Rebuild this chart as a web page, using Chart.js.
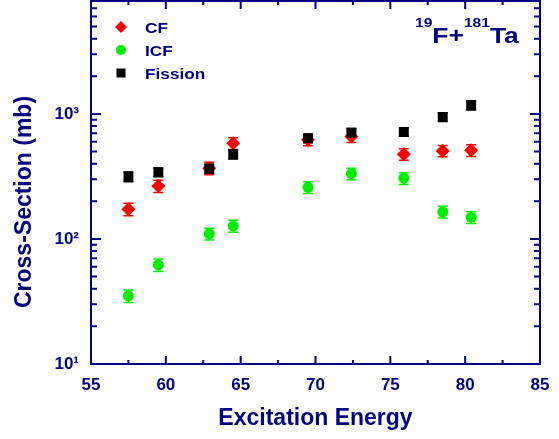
<!DOCTYPE html>
<html>
<head>
<meta charset="utf-8">
<script src="https://cdn.jsdelivr.net/npm/chart.js@4/dist/chart.umd.min.js"></script>
<style>
  html, body { margin: 0; padding: 0; background: #fff; }
  #wrap { width: 559px; height: 439px; }
</style>
</head>
<body>
<div id="wrap"><canvas id="chart" width="559" height="439"></canvas></div>
<script>
// excitation energies (same for all three series)
var energy = [57.5, 59.5, 62.9, 64.5, 69.5, 72.4, 75.9, 78.5, 80.4];

// cross-sections (mb) and their errors
var cfVals = [173, 265, 368, 582, 622, 660, 476, 506, 512];
var cfErr = [20, 30, 42, 62, 66, 70, 50, 52, 55];
var icfVals = [35, 62, 110, 127, 259, 333, 306, 165, 149];
var icfErr = [4, 7, 12, 14, 28, 35, 33, 18, 16];
var fisVals = [315, 342, 365, 476, 639, 708, 718, 946, 1175];
var fisErr = [28, 28, 30, 40, 50, 55, 55, 75, 100];

var yMajor = [10, 100, 1000];
var yLabels = ['10\u00B9', '10\u00B2', '10\u00B3'];

var navy = '#000080';
var fontFam = '"Liberation Sans", Arial, Helvetica, sans-serif';

function toPoints(xs, ys, errs) {
    var pts = [];
    for (var i = 0; i < xs.length; i++) {
        pts.push({ x: xs[i], y: ys[i], err: errs[i] });
    }
    return pts;
}

// text slightly stretched sideways, as in the original figure
function wideText(ctx, txt, x, y, stretch) {
    ctx.save();
    ctx.translate(x, y);
    ctx.scale(stretch, 1);
    ctx.fillText(txt, 0, 0);
    ctx.restore();
    return ctx.measureText(txt).width * stretch;
}

// error bars, drawn under the markers
var errorBars = {
    id: 'errorBars',
    beforeDatasetsDraw: function(chart) {
        var ctx = chart.ctx;
        var xs = chart.scales.x, ys = chart.scales.y;
        chart.data.datasets.forEach(function(ds, di) {
            if (!chart.isDatasetVisible(di)) return;
            ctx.save();
            ctx.strokeStyle = ds.borderColor;
            ctx.lineWidth = 1.5;
            ds.data.forEach(function(p) {
                var px = xs.getPixelForValue(p.x);
                var top = ys.getPixelForValue(p.y + p.err);
                var bot = ys.getPixelForValue(p.y - p.err);
                var cap = 5;
                ctx.beginPath();
                ctx.moveTo(px, top); ctx.lineTo(px, bot);
                ctx.moveTo(px - cap, top); ctx.lineTo(px + cap, top);
                ctx.moveTo(px - cap, bot); ctx.lineTo(px + cap, bot);
                ctx.stroke();
            });
            ctx.restore();
        });
    }
};

// frame with inward ticks on all four sides, legend, titles, label
var frame = {
    id: 'frame',
    afterDraw: function(chart) {
        var ctx = chart.ctx;
        var a = chart.chartArea;
        var xs = chart.scales.x, ys = chart.scales.y;
        ctx.save();
        ctx.strokeStyle = navy;
        ctx.lineWidth = 2;
        ctx.strokeRect(a.left, a.top, a.right - a.left, a.bottom - a.top);

        ctx.beginPath();
        // x ticks
        for (var v = xs.min; v <= xs.max + 0.001; v += 2.5) {
            var px = xs.getPixelForValue(v);
            var len = (Math.abs(v % 5) < 0.01) ? 8 : 4;
            ctx.moveTo(px, a.bottom); ctx.lineTo(px, a.bottom - len);
            ctx.moveTo(px, a.top); ctx.lineTo(px, a.top + len);
        }
        // y ticks (log decades)
        for (var d = 10; d <= 1000; d *= 10) {
            for (var m = 1; m <= 9; m++) {
                var val = m * d;
                if (val < ys.min || val > ys.max) continue;
                var py = ys.getPixelForValue(val);
                var l = (m === 1) ? 10 : 6;
                ctx.moveTo(a.left, py); ctx.lineTo(a.left + l, py);
                ctx.moveTo(a.right, py); ctx.lineTo(a.right - l, py);
            }
        }
        ctx.stroke();

        // y axis title
        ctx.fillStyle = navy;
        ctx.font = 'bold 23px ' + fontFam;
        ctx.textAlign = 'center';
        ctx.textBaseline = 'middle';
        ctx.save();
        ctx.translate(25, 202);
        ctx.rotate(-Math.PI / 2);
        ctx.fillText('Cross-Section (mb)', 0, 0);
        ctx.restore();

        // legend
        var items = chart.data.datasets;
        var lx = 121, ly = [27, 50, 73];
        ctx.font = 'bold 15px ' + fontFam;
        ctx.textAlign = 'left';
        ctx.textBaseline = 'alphabetic';
        items.slice().sort(function(p, q) { return p.legendPos - q.legendPos; }).forEach(function(ds, i) {
            var y = ly[i];
            ctx.fillStyle = ds.backgroundColor;
            ctx.beginPath();
            if (ds.pointStyle === 'rectRot') {
                ctx.moveTo(lx, y - 6); ctx.lineTo(lx + 6, y); ctx.lineTo(lx, y + 6); ctx.lineTo(lx - 6, y);
                ctx.closePath();
            } else if (ds.pointStyle === 'circle') {
                ctx.arc(lx, y, 5, 0, Math.PI * 2);
            } else {
                ctx.rect(lx - 4.5, y - 4.5, 9, 9);
            }
            ctx.fill();
            ctx.fillStyle = navy;
            wideText(ctx, ds.label, 145, y + 5.5, 1.15);
        });

        // reaction label
        var x0 = 415;
        ctx.fillStyle = navy;
        var parts = [['19', 13, 26.5], ['F+', 22, 42.5], ['181', 13, 26.5], ['Ta', 22, 42.5]];
        parts.forEach(function(p) {
            ctx.font = 'bold ' + p[1] + 'px ' + fontFam;
            x0 += wideText(ctx, p[0], x0, p[2], 1.2);
        });
        ctx.restore();
    }
};

new Chart(document.getElementById('chart'), {
    type: 'scatter',
    data: {
        datasets: [
            {
                label: 'CF', legendPos: 0, order: 1,
                data: toPoints(energy, cfVals, cfErr),
                pointStyle: 'rectRot', pointRadius: 7,
                backgroundColor: '#ff0000', borderColor: '#ff0000', borderWidth: 0
            },
            {
                label: 'ICF', legendPos: 1, order: 2,
                data: toPoints(energy, icfVals, icfErr),
                pointStyle: 'circle', pointRadius: 5.5,
                backgroundColor: '#00ee00', borderColor: '#00ee00', borderWidth: 0
            },
            {
                label: 'Fission', legendPos: 2, order: 0,
                data: toPoints(energy, fisVals, fisErr),
                pointStyle: 'rect', pointRadius: 7,
                backgroundColor: '#000000', borderColor: '#000000', borderWidth: 0
            }
        ]
    },
    options: {
        responsive: false,
        animation: false,
        devicePixelRatio: 1,
        layout: { autoPadding: false, padding: { top: 1, right: 19, left: 0, bottom: 0 } },
        plugins: { legend: { display: false }, tooltip: { enabled: false } },
        scales: {
            x: {
                type: 'linear', min: 55, max: 85,
                grid: { display: false, drawTicks: false },
                border: { display: false },
                ticks: {
                    stepSize: 5, padding: 11, color: navy,
                    font: { family: fontFam, size: 17, weight: 'bold' }
                },
                title: {
                    display: true, text: 'Excitation Energy', color: navy,
                    font: { family: fontFam, size: 23, weight: 'bold' },
                    padding: { top: 0, bottom: 7 }
                },
                afterFit: function(scale) {
                    scale.height = 75;
                    scale.paddingLeft = 0; scale.paddingRight = 0;
                }
            },
            y: {
                type: 'logarithmic', min: 10, max: 8000,
                grid: { display: false, drawTicks: false },
                border: { display: false },
                afterBuildTicks: function(scale) {
                    scale.ticks = yMajor.map(function(v) { return { value: v }; });
                },
                ticks: {
                    padding: 12, color: navy, autoSkip: false,
                    font: { family: fontFam, size: 17, weight: 'bold' },
                    callback: function(value) {
                        var i = yMajor.indexOf(value);
                        return i >= 0 ? yLabels[i] : null;
                    }
                },
                afterFit: function(scale) {
                    scale.width = 91;
                    scale.paddingTop = 0; scale.paddingBottom = 0;
                }
            }
        }
    },
    plugins: [errorBars, frame]
});
</script>
</body>
</html>
